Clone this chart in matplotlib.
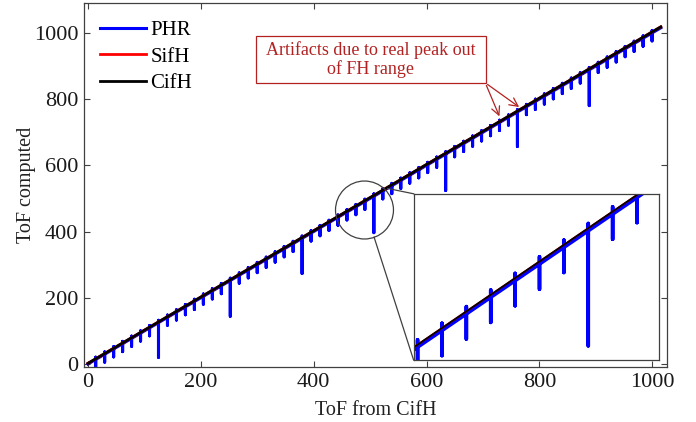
import numpy as np
import matplotlib
matplotlib.use("Agg")
import matplotlib.pyplot as plt
from matplotlib.patches import Ellipse, Rectangle

plt.rcParams['font.family'] = ['Liberation Serif', 'DejaVu Serif']

# ToF where PHR drops below the reference line
spike_x = [13.7, 29.6, 45.5, 61.4, 77.3, 93.2, 109.1, 125.0,
           140.9, 156.8, 172.7, 188.6, 204.5, 220.4, 236.3, 252.2,
           268.1, 284.0, 299.9, 315.8, 331.7, 347.6, 363.5, 379.4,
           395.3, 411.2, 427.1, 443.0, 458.9, 474.8, 490.7, 506.6,
           522.5, 538.4, 554.3, 570.2, 586.1, 602.0, 617.9, 633.8,
           649.7, 665.6, 681.5, 697.4, 713.3, 729.2, 745.1, 761.0,
           776.9, 792.8, 808.7, 824.6, 840.5, 856.4, 872.3, 888.2,
           904.1, 920.0, 935.9, 951.8, 967.7, 983.6, 999.5]
# depth of each dip below the line
spike_down = [24, 24, 24, 24, 24, 24, 24, 105,
              24, 24, 24, 24, 24, 24, 24, 108,
              24, 24, 24, 24, 24, 24, 24, 106,
              24, 24, 24, 24, 24, 24, 24, 110,
              24, 24, 24, 24, 24, 24, 24, 110,
              24, 24, 24, 24, 24, 24, 24, 104,
              24, 24, 24, 24, 24, 24, 24, 108,
              24, 24, 24, 24, 24, 24, 24]
spike_up = 7

cifh_x = [0, 1015]
cifh_y = [2, 1018]
sifh_x = [0, 1015]
sifh_y = [2, 1018]

# PHR: follows the line, with vertical dips at each spike
phr_x = [0]
phr_y = [0]
for sx, d in zip(spike_x, spike_down):
    phr_x += [sx, sx, sx, sx]
    phr_y += [sx, sx + spike_up, sx - d, sx]
phr_x.append(1015)
phr_y.append(1015)

blue = (0, 0, 1)
red = (1, 0, 0)
dark = '#b22222'
frame = '#404040'

fig = plt.figure(figsize=(6.96, 4.22), dpi=100)
ax = fig.add_axes([84/696, 1 - 367/422, 583/696, 364/422])

ax.plot(phr_x, phr_y, color=blue, lw=2.2, label='PHR')
ax.plot(sifh_x, sifh_y, color=red, lw=2.0, label='SifH')
ax.plot(cifh_x, cifh_y, color='black', lw=2.0, label='CifH')

ax.set_xlim(-7, 1026)
ax.set_ylim(-9, 1090)
ax.set_xticks([0, 200, 400, 600, 800, 1000])
ax.set_yticks([0, 200, 400, 600, 800, 1000])
ax.tick_params(direction='in', top=True, right=True, length=4, width=0.8,
               labelsize=16, color=frame, labelcolor='#1a1a1a', pad=4)
for s in ax.spines.values():
    s.set_color(frame)
    s.set_linewidth(0.9)
ax.set_xlabel('ToF from CifH', fontsize=14.5, color='#222222', labelpad=7)
ax.set_ylabel('ToF computed', fontsize=14.5, color='#222222', labelpad=-1.5)

leg = ax.legend(loc='upper left', frameon=False, fontsize=15, handlelength=2.2,
                handletextpad=0.2, labelspacing=0.32, borderaxespad=0,
                bbox_to_anchor=(0.0137, 0.974))

# annotation box and arrows
ax.add_patch(Rectangle((297, 849), 409, 142, fill=True, fc='white', ec=dark,
                       lw=0.9, zorder=4))
ax.text(501.5, 919, 'Artifacts due to real peak out\nof FH range', color=dark,
        fontsize=13, ha='center', va='center', linespacing=1.05, zorder=5)
for tx, ty in [(731, 740), (768, 771)]:
    ax.annotate('', xy=(tx, ty), xytext=(704, 849),
                arrowprops=dict(arrowstyle='->,head_length=0.6,head_width=0.3',
                                color=dark, lw=0.9))

# zoom circle
ax.add_patch(Ellipse((490, 465), 102.7, 175, fill=False, ec=frame, lw=0.9, zorder=5))
ax.plot([531, 577], [530, 514], color=frame, lw=0.9, zorder=5)
ax.plot([507, 577], [383, 12], color=frame, lw=0.9, zorder=5)

# inset
axi = ax.inset_axes([577, 12, 435, 502], transform=ax.transData, zorder=6)
axi.plot(phr_x, phr_y, color=blue, lw=2.6)
axi.plot(sifh_x, sifh_y, color=red, lw=1.3)
axi.plot(cifh_x, cifh_y, color='black', lw=1.3)
axi.set_xlim(392.7, 552.8)
axi.set_ylim(383, 542)
axi.set_xticks([])
axi.set_yticks([])
for s in axi.spines.values():
    s.set_color(frame)
    s.set_linewidth(0.9)

fig.savefig('out.png', dpi=100)
